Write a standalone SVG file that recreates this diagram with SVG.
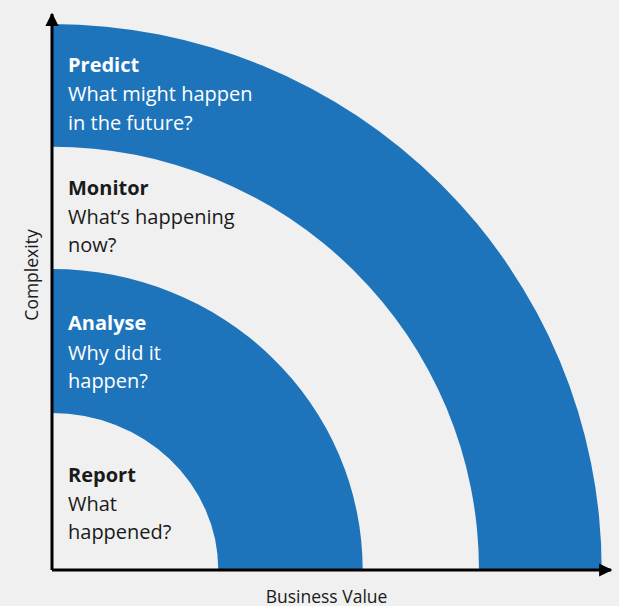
<svg xmlns="http://www.w3.org/2000/svg" width="619" height="606" viewBox="0 0 619 606">
<style>
.band{fill:#1e74bb}
.t{font-family:"Open Sans",Lato,sans-serif;font-size:20px}
.h{font-weight:bold}
.w{fill:#ffffff}
.d{fill:#1a1a1a}
.ax{stroke:#000;stroke-width:3;fill:none}
.lbl{font-family:"Open Sans",Lato,sans-serif;font-size:17.5px;fill:#1a1a1a}
</style>
<defs>
<marker id="arr" viewBox="0 0 10 10" refX="9" refY="5" markerWidth="4.4" markerHeight="4.4" markerUnits="strokeWidth" orient="auto">
<path d="M0 0 L10 5 L0 10 Z" fill="#000"/>
</marker>
</defs>
<rect width="619" height="606" fill="#f0f0f0"/>
<g id="predict">
<path class="band" d="M52 24 A549.7 546 0 0 1 601.7 570 L479 570 A427 423.3 0 0 0 52 146.7 Z"/>
<text class="t h w" x="68" y="72">Predict</text>
<text class="t w" x="68" y="101">What might happen</text>
<text class="t w" x="68" y="129.5">in the future?</text>
</g>
<g id="monitor">
<text class="t h d" x="68" y="195">Monitor</text>
<text class="t d" x="68" y="223.5">What’s happening</text>
<text class="t d" x="68" y="252">now?</text>
</g>
<g id="analyse">
<path class="band" d="M52 269 A310.7 301 0 0 1 362.7 570 L218.3 570 A166.3 157 0 0 0 52 413 Z"/>
<text class="t h w" x="68" y="330">Analyse</text>
<text class="t w" x="68" y="359.5">Why did it</text>
<text class="t w" x="68" y="388">happen?</text>
</g>
<g id="report">
<text class="t h d" x="68" y="482">Report</text>
<text class="t d" x="68" y="510.5">What</text>
<text class="t d" x="68" y="539">happened?</text>
</g>
<g id="axes">
<path class="ax" d="M52 570 L52 14" marker-end="url(#arr)"/>
<path class="ax" d="M52 570 L611 570" marker-end="url(#arr)"/>
<text class="lbl" transform="translate(37.5 275) rotate(-90)" text-anchor="middle">Complexity</text>
<text class="lbl" x="326.5" y="602.5" text-anchor="middle">Business Value</text>
</g>
</svg>
